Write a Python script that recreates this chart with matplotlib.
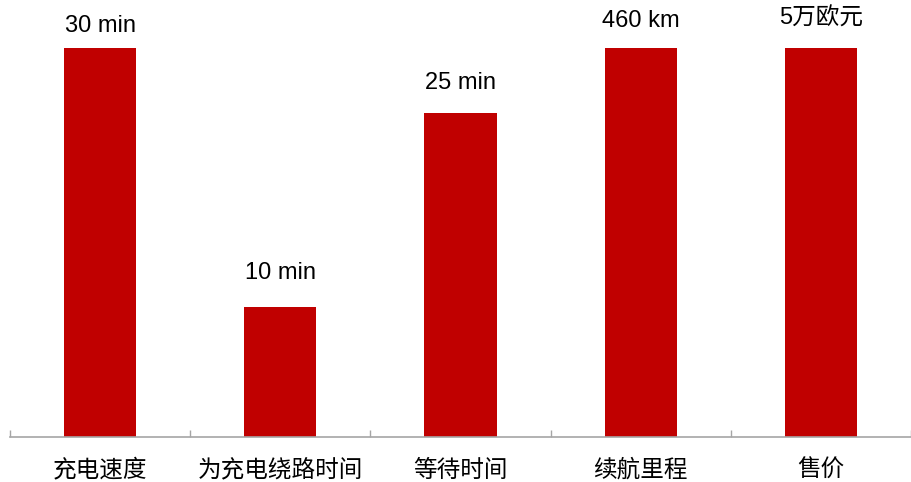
import matplotlib
matplotlib.use("Agg")
import matplotlib.pyplot as plt
from matplotlib.ticker import FixedLocator

plt.rcParams['font.family'] = ['Liberation Sans', 'Noto Sans CJK SC', 'DejaVu Sans']

categories = ["充电速度", "为充电绕路时间", "等待时间", "续航里程", "售价"]
# bar heights on a common 30-point scale
heights = [30, 10, 25, 30, 30]
value_labels = ["30 min", "10 min", "25 min", "460 km", "5万欧元"]

bar_color = "#C00000"
axis_color = "#A6A6A6"
# gap (points) between each bar top and its label baseline
label_gaps = [11.5, 20.7, 17.3, 14.9, 16.6]

fig = plt.figure(figsize=(9.12, 4.82), dpi=100)
ax = fig.add_axes([10 / 912, 1 - 437 / 482, 901 / 912, 437 / 482])

x = list(range(len(categories)))
bars = ax.bar(x, heights, width=0.4, color=bar_color, zorder=2)

for rect, lab, gap in zip(bars, value_labels, label_gaps):
    ax.annotate(lab, (rect.get_x() + rect.get_width() / 2, rect.get_height()),
                xytext=(0, gap), textcoords="offset points",
                ha="center", va="baseline", fontsize=17, color="black",
                annotation_clip=False)

ax.set_xlim(-0.5, len(categories) - 0.5)
ax.set_ylim(0, 30 * 437 / 389)

ax.set_xticks(x)
ax.set_xticklabels(categories, fontsize=17, va="baseline")
ax.tick_params(axis="x", which="major", length=0, pad=28.5)
ax.xaxis.set_minor_locator(FixedLocator([i - 0.5 for i in range(len(categories) + 1)]))
ax.tick_params(axis="x", which="minor", direction="in", length=5, width=1, color=axis_color)

ax.set_yticks([])
for side in ("left", "right", "top"):
    ax.spines[side].set_visible(False)
ax.spines["bottom"].set_color(axis_color)
ax.spines["bottom"].set_linewidth(1.2)
ax.patch.set_alpha(0)

fig.savefig("out.png", dpi=100)
